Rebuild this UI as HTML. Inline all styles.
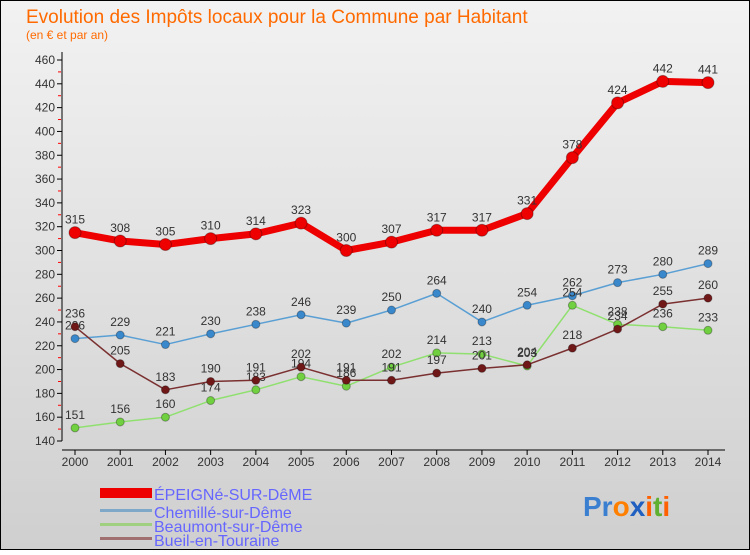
<!DOCTYPE html>
<html><head><meta charset="utf-8"><style>
body{margin:0}
#c{width:750px;height:550px;position:relative;font-family:"Liberation Sans",sans-serif}
</style></head><body>
<div id="c">
<svg id="s" width="750" height="550" xmlns="http://www.w3.org/2000/svg">
<defs><linearGradient id="bg" x1="0" y1="0" x2="0" y2="1"><stop offset="0" stop-color="#f2f2f2"/><stop offset="1" stop-color="#cfcfcf"/></linearGradient></defs>
<rect x="0.5" y="0.5" width="749" height="549" fill="url(#bg)" stroke="#000"/>
<text x="26" y="23" font-size="19" fill="#ff6a00">Evolution des Impôts locaux pour la Commune par Habitant</text>
<text x="26" y="39" font-size="12" fill="#ff6a00">(en € et par an)</text>
<g id="axes"></g><g id="series"></g>
<g font-size="16" fill="#6666ff">
<rect x="100" y="488" width="52" height="10" fill="#ee0000"/>
<text x="154" y="500">ÉPEIGNé-SUR-DêME</text>
<rect x="100" y="509" width="52" height="3" fill="#7fa8c8"/>
<text x="154" y="518">Chemillé-sur-Dême</text>
<rect x="100" y="523" width="52" height="3" fill="#9fd080"/>
<text x="154" y="532">Beaumont-sur-Dême</text>
<rect x="100" y="537" width="52" height="3" fill="#a07070"/>
<text x="154" y="546">Bueil-en-Touraine</text>
</g>
<g font-size="28" font-weight="bold">
<text x="583" y="516"><tspan fill="#3a7fd0">Pr</tspan><tspan fill="#ff8000">o</tspan><tspan fill="#2060c0">x</tspan><tspan fill="#ff6000">i</tspan><tspan fill="#60b030">t</tspan><tspan fill="#ff6000">i</tspan></text>
</g>
</svg></div>
<script>
const years=[2000,2001,2002,2003,2004,2005,2006,2007,2008,2009,2010,2011,2012,2013,2014];
const epeigne=[315,308,305,310,314,323,300,307,317,317,331,378,424,442,441];
const chemille=[226,229,221,230,238,246,239,250,264,240,254,262,273,280,289];
const beaumont=[151,156,160,174,183,194,186,202,214,213,203,254,238,236,233];
const bueil=[236,205,183,190,191,202,191,191,197,201,204,218,234,255,260];
const yTicks=[140,160,180,200,220,240,260,280,300,320,340,360,380,400,420,440,460];
const NS="http://www.w3.org/2000/svg";
const xs=i=>75+i*(633/14);
const ys=v=>441-(v-140)*(381/320);
function mk(tag,attrs,parent){const e=document.createElementNS(NS,tag);for(const k in attrs)e.setAttribute(k,attrs[k]);parent.appendChild(e);return e;}
const ax=document.getElementById('axes');
let yl=mk('line',{x1:62,y1:52,x2:62,y2:441,stroke:'#000'},ax);


yTicks.forEach((t,i)=>{
 mk('line',{x1:57,x2:62,y1:ys(t),y2:ys(t),stroke:'#000'},ax);
 if(i<yTicks.length-1)mk('line',{x1:58,x2:61,y1:ys(t+10),y2:ys(t+10),stroke:'#f00'},ax);
 const tx=mk('text',{x:55,y:ys(t)+4,'font-size':12,'text-anchor':'end',fill:'#333'},ax);tx.textContent=t;
 
 
});
let xl=mk('line',{x1:62,y1:450,x2:725,y2:450,stroke:'#000'},ax);


years.forEach((y,i)=>{
 mk('line',{x1:xs(i),x2:xs(i),y1:450,y2:455,stroke:'#000'},ax);
 const tx=mk('text',{x:xs(i),y:466,'font-size':12,'text-anchor':'middle',fill:'#333'},ax);tx.textContent=y;
 
 
});
const sg=document.getElementById('series');
function series(data,name,color,dot,w,r){
 const g=mk('g',{},sg);
 
 
 mk('polyline',{points:data.map((v,i)=>xs(i)+','+ys(v)).join(' '),fill:'none',stroke:color,'stroke-width':w,'stroke-linejoin':'round'},g);
 data.forEach((v,i)=>{
  const c=mk('circle',{cx:xs(i),cy:ys(v),r:r,fill:dot,stroke:'rgba(0,0,0,0.3)','stroke-width':1},g);
  
  
  const t=mk('text',{x:xs(i),y:ys(v)-9,'font-size':12,'text-anchor':'middle',fill:'#333'},g);t.textContent=v;
  
  
 });
}
series(chemille,'chemille','#5a9fd4','#3a88cc',1.5,4);
series(beaumont,'beaumont','#90e070','#70d040',1.5,4);
series(bueil,'bueil','#7a3030','#701818',1.5,4);
series(epeigne,'epeigne','#ee0000','#ee0000',7,6);
</script>
</body></html>
